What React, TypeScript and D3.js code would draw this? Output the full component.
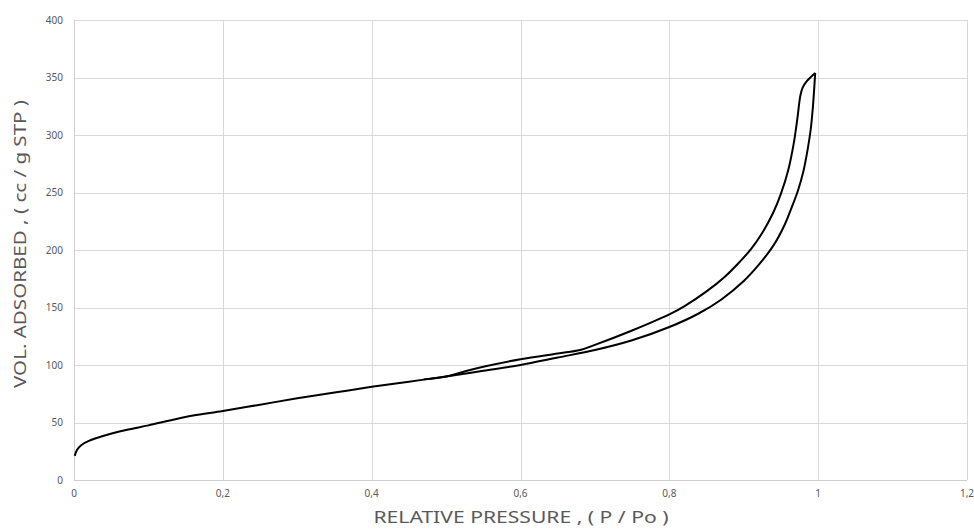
import { useEffect, useRef } from 'react';
import * as d3 from 'd3';

// adsorption branch (lower)
const adsP = [0.001, 0.004, 0.01, 0.02, 0.04, 0.07, 0.1, 0.13, 0.16, 0.2, 0.25, 0.3, 0.35, 0.4, 0.45, 0.5, 0.55, 0.6, 0.65, 0.7, 0.75, 0.8, 0.84, 0.87, 0.9, 0.92, 0.94, 0.955, 0.965, 0.973, 0.98, 0.986, 0.99, 0.993, 0.996];
const adsV = [21, 26, 30.5, 34, 38.5, 43.5, 47.5, 52, 56, 60, 65.5, 71, 76, 81, 85.5, 90, 95, 100, 106.5, 113, 121.5, 133, 145, 157, 173, 187, 204, 222, 238, 252, 268, 288, 305, 325, 354];

// desorption branch (upper)
const desP = [0.996, 0.985, 0.979, 0.976, 0.972, 0.967, 0.96, 0.95, 0.94, 0.925, 0.91, 0.895, 0.875, 0.85, 0.82, 0.8, 0.75, 0.7, 0.68, 0.65, 0.6, 0.55, 0.528, 0.5, 0.47];
const desV = [354, 347, 341, 334, 314, 292, 270, 249, 233, 215, 201, 190, 177, 164, 151, 144, 130, 117.5, 113, 110, 105, 98.5, 95, 90, 87.5];

const xTicks = [0, 0.2, 0.4, 0.6, 0.8, 1, 1.2];
const yTicks = [0, 50, 100, 150, 200, 250, 300, 350, 400];

const W = 974;
const H = 529;

export default function App() {
  const ref = useRef<SVGSVGElement>(null);

  useEffect(() => {
    const svg = d3.select(ref.current);
    svg.selectAll('*').remove();

    const left = 74, right = 967, top = 20, bottom = 480;
    const x = d3.scaleLinear().domain([0, 1.2]).range([left, right]);
    const y = d3.scaleLinear().domain([0, 400]).range([bottom, top]);
    const font = '"Noto Sans", "Open Sans", sans-serif';
    const grey = '#595959';

    const grid = svg.append('g').attr('stroke', '#d9d9d9').attr('stroke-width', 1);
    grid.selectAll('line.h')
      .data(yTicks.slice(1))
      .join('line')
      .attr('x1', left).attr('x2', right)
      .attr('y1', d => Math.round(y(d)) + 0.5).attr('y2', d => Math.round(y(d)) + 0.5);
    grid.selectAll('line.v')
      .data(xTicks.slice(1))
      .join('line')
      .attr('class', 'v')
      .attr('y1', top).attr('y2', bottom)
      .attr('x1', d => Math.round(x(d)) + 0.5).attr('x2', d => Math.round(x(d)) + 0.5);

    // axes
    svg.append('line')
      .attr('x1', left + 0.5).attr('x2', left + 0.5).attr('y1', top).attr('y2', bottom)
      .attr('stroke', '#cfcfcf');
    svg.append('line')
      .attr('x1', left).attr('x2', right).attr('y1', bottom + 0.5).attr('y2', bottom + 0.5)
      .attr('stroke', '#cfcfcf');

    const fmt = (d: number) => String(d).replace('.', ',');

    svg.append('g')
      .selectAll('text')
      .data(yTicks)
      .join('text')
      .attr('x', 63)
      .attr('y', d => y(d))
      .attr('dy', '0.35em')
      .attr('text-anchor', 'end')
      .attr('font-family', font)
      .attr('font-size', 10)
      .attr('fill', grey)
      .text(d => d);

    svg.append('g')
      .selectAll('text')
      .data(xTicks)
      .join('text')
      .attr('x', d => x(d))
      .attr('y', 497)
      .attr('text-anchor', 'middle')
      .attr('font-family', font)
      .attr('font-size', 10)
      .attr('fill', grey)
      .text(d => fmt(d));

    svg.append('text')
      .attr('x', 521)
      .attr('y', 523)
      .attr('text-anchor', 'middle')
      .attr('font-family', font)
      .attr('font-size', 17)
      .attr('fill', grey)
      .attr('textLength', 295)
      .attr('lengthAdjust', 'spacingAndGlyphs')
      .text('RELATIVE PRESSURE ,  ( P / Po )');

    svg.append('text')
      .attr('transform', 'translate(26,244) rotate(-90)')
      .attr('text-anchor', 'middle')
      .attr('font-family', font)
      .attr('font-size', 17)
      .attr('fill', grey)
      .attr('textLength', 288)
      .attr('lengthAdjust', 'spacingAndGlyphs')
      .text('VOL. ADSORBED ,  ( cc / g  STP )');

    const line = d3.line<number>()
      .x(d => x(d[0]))
      .y(d => y(d[1]))
      .curve(d3.curveCatmullRom.alpha(0.5));

    const ads = adsP.map((p, i) => [p, adsV[i]]);
    const des = desP.map((p, i) => [p, desV[i]]);

    svg.append('path')
      .attr('d', line(ads as any))
      .attr('fill', 'none')
      .attr('stroke', '#000')
      .attr('stroke-width', 2);
    svg.append('path')
      .attr('d', line(des as any))
      .attr('fill', 'none')
      .attr('stroke', '#000')
      .attr('stroke-width', 2);
  }, []);

  return (
    <div style={{ position: 'absolute', left: 0, top: 0 }}>
      <svg ref={ref} width={W} height={H} style={{ display: 'block', background: '#fff' }} />
    </div>
  );
}
